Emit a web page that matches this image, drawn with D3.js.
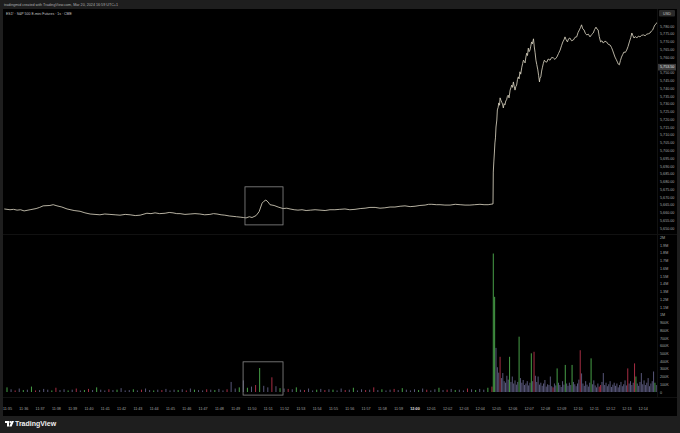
<!DOCTYPE html>
<html><head><meta charset="utf-8">
<script src="https://cdn.jsdelivr.net/npm/d3@7"></script>
<style>html,body{margin:0;padding:0;background:#1e1e1e;} svg{display:block;font-family:"Liberation Sans",Arial,sans-serif;}</style>
</head><body><svg id="c" width="680" height="433"></svg>
<script>
// ---------- DATA ----------
const headerText = "tradingmid created with TradingView.com, Mar 20, 2024 16:59 UTC+1";
const legendText = "ES1! · S&P 500 E-mini Futures · 1s · CME";
const currencyLabel = "USD";
const baseTime = [2024, 2, 20, 11, 35, 0];   // start of the time axis
const timeSpanSec = 2400;
const priceTicks = [5780,5775,5770,5765,5760,5755,5750,5745,5740,5735,5730,5725,5720,5715,5710,5705,5700,5695,5690,5685,5680,5675,5670,5665,5660,5655,5650];
const volTicks = [0,100,200,300,400,500,600,700,800,900,1000,1100,1200,1300,1400,1500,1600,1700,1800,1900,2000]; // thousands
const markedPrice = 5753.50;

// price path before the jump: seconds after 11:35:00, price
const preSecs = [-10,11,24,37,50,63,85,107,120,133,158,170,184,202,221,247,269,287,306,324,342,360,379,398,416,435,453,472,490,515,530,545,562,582,597,611,625,637,655,674,692,710,728,747,760,773,788,802,818,832,845,858,870,880,892,902,917,928,939,946,953,961,968,983,998,1016,1030,1042,1057,1071,1086,1101,1118,1134,1152,1171,1189,1207,1225,1244,1262,1281,1300,1318,1336,1355,1373,1391,1410,1428,1447,1465,1484,1502,1520,1539,1552,1564,1580,1594,1612,1631,1650,1668,1686,1704,1722,1741,1756,1771,1789];
const preVals = [5662.25,5661.75,5662.00,5661.50,5661.75,5661.00,5661.75,5662.50,5663.25,5664.25,5664.50,5665.00,5664.25,5663.50,5662.25,5661.25,5660.75,5659.75,5659.00,5658.75,5658.50,5659.00,5658.75,5658.50,5658.25,5658.75,5658.50,5658.00,5658.25,5659.50,5659.25,5659.75,5659.25,5659.50,5660.00,5659.75,5659.25,5659.25,5658.75,5659.00,5659.25,5659.00,5658.50,5658.75,5659.25,5659.00,5658.50,5658.25,5657.75,5657.50,5657.25,5657.00,5656.75,5656.50,5657.25,5656.75,5658.00,5660.50,5666.00,5667.25,5668.00,5666.75,5665.00,5664.50,5663.50,5662.50,5662.75,5662.25,5661.75,5661.50,5661.75,5661.25,5661.50,5661.75,5661.50,5661.25,5661.75,5661.75,5662.00,5662.25,5661.75,5662.00,5662.50,5662.75,5663.25,5663.25,5662.75,5663.00,5663.50,5663.50,5664.00,5664.25,5663.75,5664.00,5664.50,5664.75,5665.25,5665.25,5665.00,5665.00,5664.75,5664.75,5665.25,5665.00,5664.75,5664.75,5665.00,5665.25,5665.00,5665.00,5665.50];
// price path after the jump
const postSecs = [1790,1792,1794,1796,1798,1800,1803,1805,1808,1810,1813,1815,1818,1821,1824,1827,1830,1833,1836,1839,1842,1845,1848,1852,1855,1858,1861,1864,1867,1870,1873,1876,1879,1882,1885,1888,1891,1895,1898,1901,1904,1907,1910,1913,1916,1919,1922,1925,1928,1931,1934,1938,1941,1944,1947,1950,1954,1957,1960,1962,1965,1968,1971,1974,1978,1982,1987,1992,1999,2005,2011,2017,2024,2030,2036,2041,2046,2050,2054,2058,2063,2067,2072,2078,2085,2091,2097,2102,2107,2111,2115,2119,2124,2129,2134,2140,2146,2152,2158,2163,2168,2172,2176,2180,2185,2190,2195,2201,2207,2213,2220,2225,2229,2234,2238,2243,2247,2250,2254,2258,2262,2266,2271,2276,2281,2286,2291,2296,2300,2304,2308,2313,2318,2324,2330,2336,2343,2349,2355,2361,2367,2372,2377,2381,2385,2390,2394];
const postVals = [5686.00,5692.50,5698.25,5704.75,5708.00,5715.00,5719.50,5726.00,5727.75,5730.50,5729.00,5733.75,5732.25,5731.00,5729.75,5727.25,5730.00,5729.25,5731.75,5732.50,5734.75,5735.50,5733.75,5738.75,5740.25,5742.00,5740.50,5744.00,5741.25,5738.75,5741.00,5742.00,5745.50,5747.25,5746.00,5750.50,5749.00,5753.50,5755.75,5758.00,5757.25,5756.25,5760.00,5762.50,5761.00,5765.75,5763.50,5764.50,5767.00,5769.75,5768.50,5771.75,5766.50,5762.75,5758.00,5755.25,5751.75,5748.00,5744.00,5746.50,5747.25,5751.00,5753.50,5755.75,5758.00,5757.00,5756.75,5758.75,5758.00,5759.75,5759.50,5758.50,5760.00,5762.25,5764.50,5767.25,5769.75,5771.00,5773.00,5771.25,5769.75,5771.75,5772.25,5770.50,5771.00,5772.75,5773.00,5775.75,5777.50,5779.00,5780.75,5778.25,5777.50,5775.25,5774.25,5774.75,5773.00,5774.50,5775.50,5777.75,5779.25,5778.00,5777.50,5773.25,5769.75,5770.50,5769.00,5770.25,5769.75,5768.25,5767.75,5766.25,5764.50,5762.00,5760.00,5758.25,5756.75,5755.50,5755.00,5757.75,5760.00,5761.50,5763.25,5763.00,5764.50,5766.75,5769.75,5772.50,5775.50,5773.75,5772.25,5773.25,5772.25,5773.50,5773.00,5774.00,5774.25,5773.75,5774.75,5775.00,5775.50,5776.75,5777.50,5779.25,5780.75,5781.50,5782.50];

// volume (thousands). Before the jump: one bar every 15 s from 11:35:00
const preVolStep = 15;
const preVols = [60,35,20,45,25,30,70,20,25,40,
30,20,55,25,35,20,30,45,20,25,
40,25,60,30,20,35,25,30,50,20,
25,35,20,30,45,25,20,30,25,40,
20,30,25,35,20,45,30,25,20,35,
30,25,40,20,35,130,45,60,150,55,
70,90,310,80,60,190,75,50,45,40,
35,60,30,25,45,20,30,40,25,35,
30,20,45,25,30,55,20,35,25,30,
60,25,35,20,30,40,25,50,30,20,
35,25,45,30,20,35,55,25,30,40,
25,30,20,45,35,25,40,30,55,70];
const preColors = "gbrbgbgrbbbgrbbgbrbgrbgbbrbgbbbgbrbbgbrbbbgbrbgbbrbgbbrbbgbgbrgbbrbgbrbgbrbbgbrbgbbrbgbbrbrbgbbrbgbbbgbrbbgbrbgbbrbgbbgr";
// after the jump: one bar every 5 s from 12:04:50
const postVolStart = 1790;
const postVolStep = 5;
const postVols = [1790,1230,570,320,250,455,180,245,140,120,
210,160,455,130,200,110,150,95,130,715,
180,120,155,90,110,140,85,120,500,140,
520,210,130,200,95,120,80,110,155,70,
100,90,200,75,60,110,85,305,120,90,
65,140,95,350,110,80,120,90,350,130,
100,75,110,160,540,240,110,80,140,95,
70,120,435,100,150,85,60,110,70,90,
130,245,90,120,75,100,140,65,95,120,
80,110,60,90,130,75,100,150,85,305,
110,140,90,120,370,200,110,80,130,245,
100,150,90,120,180,75,110,140,265,120,
90];
const postColors = "ggbbbrbbbbbbgbbbbbbgbbbbbbbbgbrbbbbbbbbbbbbbrbbgbbbbbgbbbbgbbbbbrbbbbbbbgbbbbbrrbbbbbbbbbbbbbbbbbbbrbbbbrgbbbbbbbbbbbbbgbb";

// annotation boxes (time in s after 11:35:00)
const priceBox = {t0: 876, t1: 1016, p0: 5652, p1: 5676.5};
const volBox = {t0: 869, t1: 1016, v0: -40, v1: 390};

// ---------- LAYOUT ----------
const W = 680, H = 433;
const chartL = 3, chartR = 677, chartT = 9, chartB = 416;
const plotR = 657;
const pricePane = [chartT, 234];
const volPane = [235, 397];
const svg = d3.select("#c");
const colors = {g: "#4fb04f", r: "#b8324a", b: "#6d6b96"};
const fs = 3.7;
const ff = "Liberation Sans, Arial, sans-serif";

svg.append("rect").attr("width", W).attr("height", H).attr("fill", "#1e1e1e");
svg.append("rect").attr("x", chartL).attr("y", chartT).attr("width", chartR - chartL).attr("height", chartB - chartT).attr("fill", "#000");

const t0 = new Date(...baseTime);
const toDate = s => new Date(t0.getTime() + s * 1000);
const x = d3.scaleTime().domain([t0, toDate(timeSpanSec)]).range([7, 659]);
const y = d3.scaleLinear().domain([5650, 5780]).range([228, 26]);
const yv = d3.scaleLinear().domain([0, 1900]).range([392, 245]);

const defs = svg.append("defs");
defs.append("clipPath").attr("id", "cp").append("rect").attr("x", chartL).attr("y", pricePane[0]).attr("width", plotR - chartL).attr("height", pricePane[1] - pricePane[0]);
defs.append("clipPath").attr("id", "cv").append("rect").attr("x", chartL).attr("y", volPane[0]).attr("width", plotR - chartL).attr("height", volPane[1] - volPane[0]);

// separators (faint)
svg.append("line").attr("x1", plotR + 0.5).attr("x2", plotR + 0.5).attr("y1", chartT).attr("y2", volPane[1]).attr("stroke", "#111");
svg.append("line").attr("x1", chartL).attr("x2", chartR).attr("y1", 234.5).attr("y2", 234.5).attr("stroke", "#111");
svg.append("line").attr("x1", chartL).attr("x2", chartR).attr("y1", volPane[1] + 0.5).attr("y2", volPane[1] + 0.5).attr("stroke", "#111");

// volume bars
const volData = [];
preVols.forEach((v, i) => volData.push({t: toDate(i * preVolStep), v, c: preColors[i]}));
postVols.forEach((v, i) => volData.push({t: toDate(postVolStart + i * postVolStep), v, c: postColors[i]}));
svg.append("g").attr("clip-path", "url(#cv)").selectAll("rect").data(volData).join("rect")
  .attr("x", d => x(d.t) - 0.5).attr("width", 1)
  .attr("y", d => yv(d.v)).attr("height", d => yv(0) - yv(d.v))
  .attr("fill", d => colors[d.c]).attr("opacity", d => d.c === "b" ? 0.8 : 0.9);

// price line
const pts = preSecs.map((s, i) => [toDate(s), preVals[i]])
  .concat(postSecs.map((s, i) => [toDate(s), postVals[i]]));
svg.append("path").attr("clip-path", "url(#cp)").datum(pts)
  .attr("d", d3.line().x(d => x(d[0])).y(d => y(d[1])))
  .attr("fill", "none").attr("stroke", "#d6d0bd").attr("stroke-width", 0.85).attr("stroke-linejoin", "round");

// annotation boxes
svg.append("rect").attr("x", x(toDate(priceBox.t0))).attr("y", y(priceBox.p1))
  .attr("width", x(toDate(priceBox.t1)) - x(toDate(priceBox.t0))).attr("height", y(priceBox.p0) - y(priceBox.p1))
  .attr("fill", "none").attr("stroke", "#8a8a8a").attr("stroke-width", 0.8);
svg.append("rect").attr("x", x(toDate(volBox.t0))).attr("y", yv(volBox.v1))
  .attr("width", x(toDate(volBox.t1)) - x(toDate(volBox.t0))).attr("height", yv(volBox.v0) - yv(volBox.v1))
  .attr("fill", "none").attr("stroke", "#8a8a8a").attr("stroke-width", 0.8);

// price axis (labels hidden where the marked-price tag sits)
const fmtP = d3.format(",.2f");
const pAxis = svg.append("g").attr("transform", `translate(${plotR},0)`)
  .call(d3.axisRight(y).tickValues(priceTicks.filter(v => Math.abs(y(v) - y(markedPrice)) > 5)).tickFormat(fmtP).tickSize(0).tickPadding(3));
pAxis.select(".domain").remove();
pAxis.selectAll("text").attr("fill", "#a8a8a8").attr("font-size", fs).attr("font-family", ff);

// volume axis
const fmtV = v => v === 0 ? "0" : v >= 1000 ? (v / 1000) + "M" : v + "K";
const vAxis = svg.append("g").attr("transform", `translate(${plotR},0)`)
  .call(d3.axisRight(yv).tickValues(volTicks).tickFormat(fmtV).tickSize(0).tickPadding(3));
vAxis.select(".domain").remove();
vAxis.selectAll("text").attr("fill", "#a8a8a8").attr("font-size", fs).attr("font-family", ff);

// USD tag and marked price tag
svg.append("rect").attr("x", 659).attr("y", 10).attr("width", 16).attr("height", 6.5).attr("rx", 1).attr("fill", "#2a2a2a");
svg.append("text").attr("x", 667).attr("y", 14.6).attr("text-anchor", "middle").attr("font-size", fs).attr("fill", "#c8c8c8").text(currencyLabel);
svg.append("rect").attr("x", 658).attr("y", y(markedPrice) - 3.3).attr("width", 18).attr("height", 6.6).attr("fill", "#3c3c3c");
svg.append("text").attr("x", 660).attr("y", y(markedPrice) + 1.3).attr("font-size", fs).attr("fill", "#e6e6e6").text(fmtP(markedPrice));

// time axis
const tTicks = d3.timeMinute.every(1).range(t0, toDate(timeSpanSec));
const tAxis = svg.append("g").attr("transform", `translate(0,${volPane[1]})`)
  .call(d3.axisBottom(x).tickValues(tTicks).tickFormat(d3.timeFormat("%H:%M")).tickSize(0).tickPadding(10));
tAxis.select(".domain").remove();
tAxis.selectAll("text").attr("font-size", fs).attr("font-family", ff)
  .attr("font-weight", d => d.getMinutes() === 0 ? "bold" : null)
  .attr("fill", d => d.getMinutes() === 0 ? "#e0e0e0" : "#a8a8a8");

// header & legend
svg.append("text").attr("x", 4).attr("y", 6).attr("font-size", fs).attr("fill", "#b0b0b0").text(headerText);
svg.append("text").attr("x", 6).attr("y", 14.5).attr("font-size", 3.5).attr("fill", "#c8c8c8").text(legendText);

// footer logo
const lg = svg.append("g").attr("transform", "translate(5,421)");
lg.append("path").attr("d", "M0,0 H4 V5.5 H2 V2 H0 Z").attr("fill", "#fff");
lg.append("circle").attr("cx", 5.3).attr("cy", 1).attr("r", 1).attr("fill", "#fff");
lg.append("path").attr("d", "M6.6,0 H9 L6.6,5.5 H4.2 Z").attr("fill", "#fff");
svg.append("text").attr("x", 15).attr("y", 426.3).attr("font-size", 7).attr("font-weight", "bold").attr("fill", "#f0f0f0").text("TradingView");
</script></body></html>
